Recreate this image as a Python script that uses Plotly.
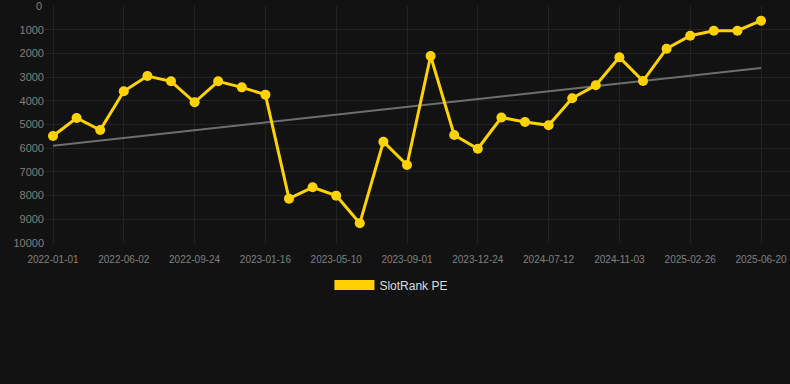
import plotly.graph_objects as go

# ---- data ----
values = [5485, 4726, 5232, 3600, 2954, 3178, 4063, 3178, 3432, 3741,
          8129, 7650, 8002, 9170, 5725, 6709, 2110, 5443, 6021, 4705,
          4895, 5035, 3895, 3347, 2166, 3165, 1800, 1252, 1041, 1041, 619]
tick_labels = ["2022-01-01", "2022-06-02", "2022-09-24", "2023-01-16", "2023-05-10",
               "2023-09-01", "2023-12-24", "2024-07-12", "2024-11-03", "2025-02-26",
               "2025-06-20"]
tick_every = 3
y_ticks = [0, 1000, 2000, 3000, 4000, 5000, 6000, 7000, 8000, 9000, 10000]
trend_values = [5900, 2616]
series_name = "SlotRank PE"

x_idx = list(range(len(values)))
tickvals = x_idx[::tick_every]
trend_x = [x_idx[0], x_idx[-1]]

BG = "#121212"
GOLD = "#FFD200"
GRID = "#232323"
TICK = "#808080"

fig = go.Figure()
fig.add_trace(go.Scatter(
    x=trend_x, y=trend_values, mode="lines",
    line=dict(color="#6e6e6e", width=2), showlegend=False, hoverinfo="skip"))
fig.add_trace(go.Scatter(
    x=x_idx, y=values, mode="lines+markers",
    line=dict(color=GOLD, width=3),
    marker=dict(color=GOLD, size=10),
    showlegend=False))
# legend entry (box-like swatch)
fig.add_trace(go.Scatter(
    x=[None], y=[None], mode="lines", name=series_name,
    line=dict(color=GOLD, width=10), showlegend=True))

# top tick label (Plotly drops the one sitting on the figure edge)
fig.add_annotation(x=0, xref="paper", xanchor="right", xshift=-1,
                   y=y_ticks[0], yref="y", yanchor="middle",
                   text=str(y_ticks[0]), showarrow=False,
                   font=dict(size=11, color=TICK))

fig.update_layout(
    width=790, height=384,
    paper_bgcolor=BG, plot_bgcolor=BG,
    margin=dict(l=45, r=0, t=6, b=141),
    font=dict(family="Arial, Liberation Sans, sans-serif", color=TICK),
    showlegend=True,
    legend=dict(orientation="h", x=0.465, xanchor="center", y=-0.177, yanchor="middle",
                font=dict(size=12, color="#dddddd"), itemwidth=40,
                bgcolor="rgba(0,0,0,0)"),
)
fig.update_xaxes(
    range=[-8 / 23.6, 30 + 29 / 23.6],
    tickmode="array", tickvals=tickvals, ticktext=tick_labels,
    tickfont=dict(size=10, color=TICK), ticklabelstandoff=9,
    showgrid=True, gridcolor=GRID, gridwidth=1,
    zeroline=False, showline=False, ticks="", fixedrange=True)
fig.update_yaxes(
    range=[10000.5, -0.5], tickmode="array", tickvals=y_ticks,
    ticktext=[str(v) for v in y_ticks],
    tickfont=dict(size=11, color=TICK),
    showgrid=True, gridcolor=GRID, gridwidth=1,
    zeroline=False, showline=False, ticks="", fixedrange=True)

fig.write_html("out.html", config={"displayModeBar": False},
               post_script="document.body.style.margin='0';document.body.style.background='#121212';")
